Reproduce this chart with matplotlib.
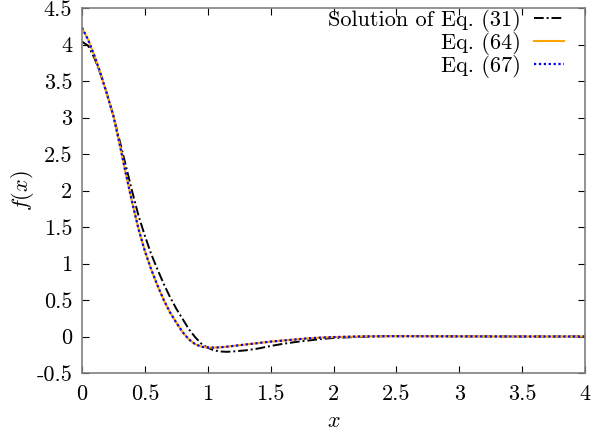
import numpy as np
import matplotlib
matplotlib.use("Agg")
import matplotlib.pyplot as plt

# Data
x_vals = [0.0, 0.05, 0.1, 0.15, 0.2, 0.25, 0.3, 0.35, 0.4, 0.45, 0.5, 0.55, 0.6,
          0.65, 0.7, 0.75, 0.8, 0.85, 0.9, 0.95, 1.0, 1.05, 1.1, 1.15, 1.2, 1.3,
          1.4, 1.5, 1.6, 1.7, 1.8, 1.9, 2.0, 2.2, 2.4, 2.6, 3.0, 3.5, 4.0]

f_eq31 = [4.04, 3.98, 3.81, 3.58, 3.32, 3.02, 2.68, 2.33, 1.98, 1.65, 1.38, 1.13, 0.92,
          0.72, 0.54, 0.38, 0.24, 0.10, -0.01, -0.10, -0.155, -0.19, -0.205, -0.21, -0.205, -0.19,
          -0.165, -0.13, -0.10, -0.075, -0.055, -0.035, -0.02, -0.005, 0.004, 0.005, 0.002, 0.0, 0.0]

f_eq64 = [4.23, 4.06, 3.84, 3.59, 3.31, 3.02, 2.63, 2.22, 1.83, 1.47, 1.17, 0.92, 0.70,
          0.50, 0.33, 0.19, 0.06, -0.04, -0.105, -0.14, -0.15, -0.152, -0.148, -0.14, -0.13, -0.11,
          -0.09, -0.07, -0.055, -0.04, -0.025, -0.015, -0.008, 0.0, 0.004, 0.004, 0.002, 0.0, 0.0]

f_eq67 = [4.23, 4.06, 3.84, 3.59, 3.31, 3.02, 2.63, 2.22, 1.83, 1.47, 1.17, 0.92, 0.70,
          0.50, 0.33, 0.19, 0.06, -0.04, -0.105, -0.14, -0.15, -0.152, -0.148, -0.14, -0.13, -0.11,
          -0.09, -0.07, -0.055, -0.04, -0.025, -0.015, -0.008, 0.0, 0.004, 0.004, 0.002, 0.0, 0.0]

labels = ["Solution of Eq. (31)", "Eq. (64)", "Eq. (67)"]
x_ticks = [0, 0.5, 1, 1.5, 2, 2.5, 3, 3.5, 4]
y_ticks = [-0.5, 0, 0.5, 1, 1.5, 2, 2.5, 3, 3.5, 4, 4.5]

plt.rcParams["font.family"] = ["cmr10", "DejaVu Serif"]
plt.rcParams["mathtext.fontset"] = "cm"
plt.rcParams["axes.unicode_minus"] = False
plt.rcParams["axes.formatter.use_mathtext"] = True

fig = plt.figure(figsize=(5.99, 4.33), dpi=100)
ax = fig.add_axes([82 / 599, 1 - 373 / 433, (585 - 82) / 599, (373 - 8) / 433])

ax.plot(x_vals, f_eq31, color="black", lw=1.4, linestyle=(0, (5, 1.5, 1, 1.5)), label=labels[0])
ax.plot(x_vals, f_eq64, color="#FFA500", lw=1.5, linestyle="-", label=labels[1])
ax.plot(x_vals, f_eq67, color="#0000FF", lw=1.6, linestyle=(0, (1, 1.2)), label=labels[2])

ax.set_xlim(0, 4)
ax.set_ylim(-0.5, 4.5)
ax.set_xticks(x_ticks)
ax.set_yticks(y_ticks)
ax.set_xticklabels([f"{t:g}" for t in x_ticks], fontsize=16)
ax.set_yticklabels([f"{t:g}" for t in y_ticks], fontsize=16)
ax.tick_params(direction="in", length=5, width=0.8, top=True, right=True, color="black")
ax.tick_params(axis="x", pad=8)
ax.tick_params(axis="y", pad=7)

for s in ax.spines.values():
    s.set_color("#808080")
    s.set_linewidth(1.2)

ax.set_xlabel(r"$x$", fontsize=16, labelpad=6)
ax.set_ylabel(r"$f(x)$", fontsize=16, labelpad=0)

leg = ax.legend(loc="upper right", bbox_to_anchor=(1 - 20 / 503, 1.0),
                frameon=False, markerfirst=False, fontsize=16,
                handlelength=1.35, labelspacing=0.0, borderaxespad=0.0, borderpad=0.05,
                handletextpad=0.6)

fig.savefig("out.png", dpi=100)
